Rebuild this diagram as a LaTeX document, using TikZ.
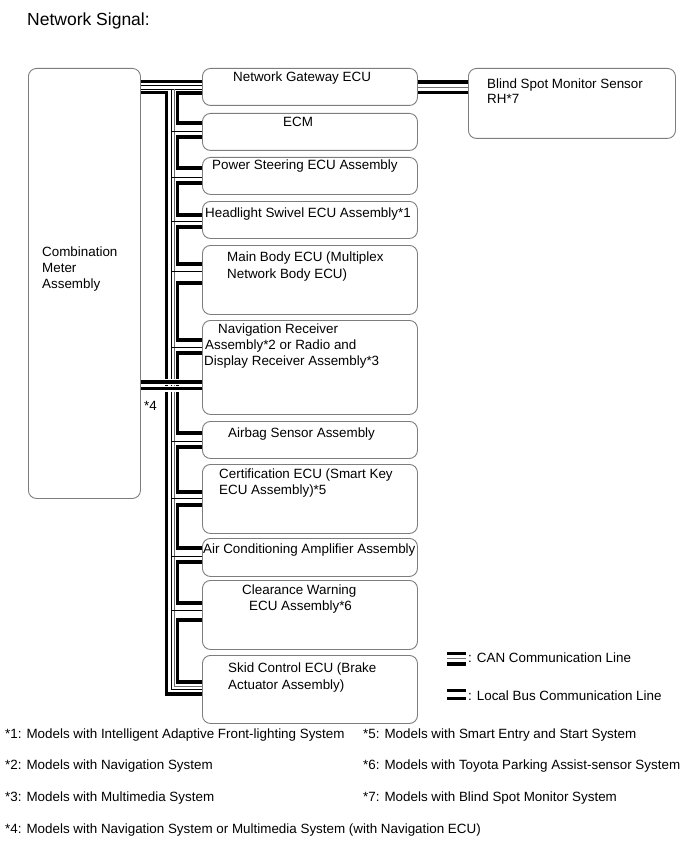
\documentclass[tikz,border=0pt]{standalone}
\usepackage{fontspec}
\setmainfont{Liberation Sans}
\definecolor{boxgray}{RGB}{125,125,125}
\definecolor{thingray}{RGB}{110,110,110}
\begin{document}
\begin{tikzpicture}[x=1pt,y=-1pt,
  box/.style={draw=boxgray, line width=0.9pt, rounded corners=8pt, anchor=north west, inner sep=0pt},
  lbl/.style={anchor=base west, inner sep=0pt, font=\fontsize{13.4}{16}\selectfont},
  thk/.style={line width=3.2pt},
  thn/.style={line width=0.8pt},
  thg/.style={line width=0.8pt, draw=thingray},
]
\useasboundingbox (0,0) rectangle (689,853);

% title
\node[lbl, font=\fontsize{17.5}{20}\selectfont] (title) at (27,26) {Network Signal:};

% boxes
\node[box, minimum width=112pt, minimum height=430pt] (cm) at (28,68) {};
\node[box, minimum width=207pt, minimum height=70pt] (bsm) at (468,68) {};
\node[box, minimum width=215pt, minimum height=37pt] (gw) at (202,68) {};
\node[box, minimum width=215pt, minimum height=37pt] (ecm) at (202,113) {};
\node[box, minimum width=215pt, minimum height=37pt] (ps) at (202,157) {};
\node[box, minimum width=215pt, minimum height=37pt] (hl) at (202,201) {};
\node[box, minimum width=215pt, minimum height=69pt] (mb) at (202,245) {};
\node[box, minimum width=215pt, minimum height=94pt] (nav) at (202,320) {};
\node[box, minimum width=215pt, minimum height=37pt] (ab) at (202,421) {};
\node[box, minimum width=215pt, minimum height=69pt] (cert) at (202,464) {};
\node[box, minimum width=215pt, minimum height=38pt] (ac) at (202,538) {};
\node[box, minimum width=215pt, minimum height=69pt] (cw) at (202,580) {};
\node[box, minimum width=215pt, minimum height=68pt] (sk) at (202,655) {};

% box texts
\node[lbl] (tcm1) at (42,256) {Combination};
\node[lbl] (tcm2) at (42,272) {Meter};
\node[lbl] (tcm3) at (42,288) {Assembly};
\node[lbl] (tbsm1) at (487,89) {Blind Spot Monitor Sensor};
\node[lbl] (tbsm2) at (487,104) {RH*7};
\node[lbl] (tgw) at (233,82) {Network Gateway ECU};
\node[lbl] (tecm) at (283,127) {ECM};
\node[lbl] (tps) at (212,170) {Power Steering ECU Assembly};
\node[lbl] (thl) at (205,217) {Headlight Swivel ECU Assembly*1};
\node[lbl] (tmb1) at (227,261) {Main Body ECU (Multiplex};
\node[lbl] (tmb2) at (227,278) {Network Body ECU)};
\node[lbl] (tnav1) at (218,333) {Navigation Receiver};
\node[lbl] (tnav2) at (205,349) {Assembly*2 or Radio and};
\node[lbl] (tnav3) at (204,365) {Display Receiver Assembly*3};
\node[lbl] (tab) at (228,437) {Airbag Sensor Assembly};
\node[lbl] (tcert1) at (219,478) {Certification ECU (Smart Key};
\node[lbl] (tcert2) at (219,494) {ECU Assembly)*5};
\node[lbl] (tac) at (203,553) {Air Conditioning Amplifier Assembly};
\node[lbl] (tcw1) at (242,594) {Clearance Warning};
\node[lbl] (tcw2) at (249,610) {ECU Assembly*6};
\node[lbl] (tsk1) at (228,672) {Skid Control ECU (Brake};
\node[lbl] (tsk2) at (228,689) {Actuator Assembly)};
\node[lbl] (tstar4) at (144,410) {*4};

% top CAN line meter -> gateway
\draw[thk] (cm.east|-0,81.5) -- (gw.west|-0,81.5);
\draw[thn] (cm.east|-0,85) -- (gw.west|-0,85);
\draw[thn] (cm.east|-0,89) -- (gw.west|-0,89);
% gateway -> blind spot
\draw[thk] (gw.east|-0,82) -- (bsm.west|-0,82);
\draw[thg] (gw.east|-0,87) -- (bsm.west|-0,87);
\draw[thk] (gw.east|-0,92.5) -- (bsm.west|-0,92.5);

% trunk
\coordinate (tr1) at (166.5,92.5);
\coordinate (tr2) at (166.5,694);
\draw[thk] (cm.east|-0,92.5) -- (tr1) -- (tr2) -- (sk.west|-0,694);
\draw[thn] (171.5,89) -- (171.5,689) -- (sk.west|-0,689);
\draw[thg] (174,89) -- (174,686.5) -- (sk.west|-0,686.5);

% brackets
\draw[thk] (gw.west|-0,93) -| (177.5,123) -- (ecm.west|-0,123);
\draw[thk] (ecm.west|-0,137) -| (177.5,168) -- (ps.west|-0,168);
\draw[thk] (ps.west|-0,183) -| (177.5,215) -- (hl.west|-0,215);
\draw[thk] (hl.west|-0,227) -| (177.5,264) -- (mb.west|-0,264);
\draw[thk] (mb.west|-0,283) -| (177.5,340) -- (nav.west|-0,340);
\draw[thk] (nav.west|-0,353) -| (177.5,433) -- (ab.west|-0,433);
\draw[thk] (ab.west|-0,447) -| (177.5,492) -- (cert.west|-0,492);
\draw[thk] (cert.west|-0,505) -| (177.5,548) -- (ac.west|-0,548);
\draw[thk] (ac.west|-0,562) -| (177.5,603) -- (cw.west|-0,603);
\draw[thk] (cw.west|-0,620) -| (177.5,682) -- (sk.west|-0,682);

% thin stubs
\foreach \n/\y in {ecm/131, ps/177, hl/221, mb/271, nav/347, ab/441, cert/498, ac/556, cw/610}
  \draw[thn] (171.5,\y) -- (\n.west|-0,\y);

% local bus *4
\draw[white, line width=6pt] (cm.east|-0,382) -- (nav.west|-0,382);
\draw[white, line width=6pt] (cm.east|-0,388.5) -- (nav.west|-0,388.5);
\draw[thk] (cm.east|-0,382) -- (nav.west|-0,382);
\draw[thk] (cm.east|-0,388.5) -- (nav.west|-0,388.5);

% legend
\coordinate (lc1) at (447,653.5);
\coordinate (lc2) at (466,653.5);
\draw[thk] (lc1) -- (lc2);
\draw[thg] (447,658.5) -- (466,658.5);
\draw[thk] (447,664) -- (466,664);
\node[lbl] (tcan) at (468,662) {: CAN Communication Line};
\draw[thk] (447,690.5) -- (466,690.5);
\draw[thk] (447,698.5) -- (466,698.5);
\node[lbl] (tlb) at (468,700) {: Local Bus Communication Line};

% footnotes
\node[lbl] (f1) at (5,738) {*1: Models with Intelligent Adaptive Front-lighting System};
\node[lbl] (f2) at (5,769) {*2: Models with Navigation System};
\node[lbl] (f3) at (5,801) {*3: Models with Multimedia System};
\node[lbl] (f4) at (5,833) {*4: Models with Navigation System or Multimedia System (with Navigation ECU)};
\node[lbl] (f5) at (363,738) {*5: Models with Smart Entry and Start System};
\node[lbl] (f6) at (363,769) {*6: Models with Toyota Parking Assist-sensor System};
\node[lbl] (f7) at (363,801) {*7: Models with Blind Spot Monitor System};
\end{tikzpicture}
\end{document}
